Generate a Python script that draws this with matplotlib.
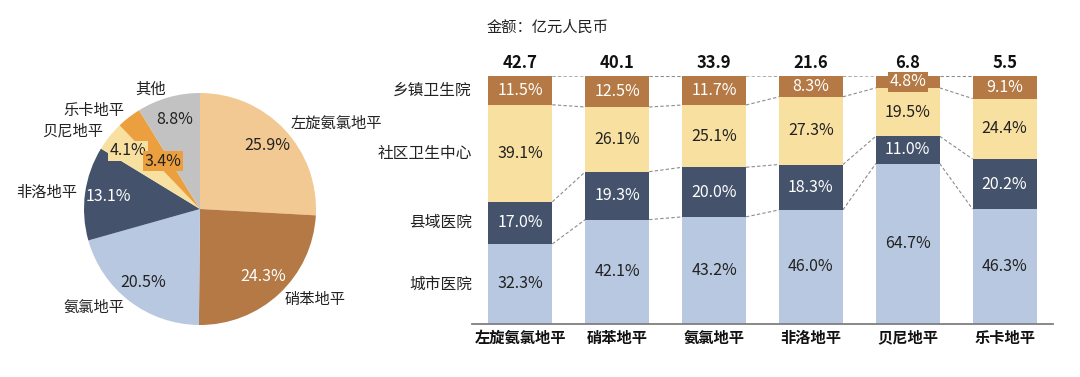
import numpy as np
import matplotlib
matplotlib.use("Agg")
from matplotlib import pyplot as plt

plt.rcParams['font.family'] = ['Noto Sans CJK SC', 'DejaVu Sans']

# pie data
pie_names = ['左旋氨氯地平', '硝苯地平', '氨氯地平', '非洛地平', '贝尼地平', '乐卡地平', '其他']
pie_share = [25.9, 24.3, 20.5, 13.1, 4.1, 3.4, 8.8]
pie_colors = ['#F2C893', '#B47944', '#B8C8E0', '#44536B', '#F8E0A0', '#EC9F3E', '#C2C2C2']
pie_text_colors = ['#222222', 'white', '#222222', 'white', '#222222', '#222222', '#222222']

# stacked bar data
drugs = ['左旋氨氯地平', '硝苯地平', '氨氯地平', '非洛地平', '贝尼地平', '乐卡地平']
totals = [42.7, 40.1, 33.9, 21.6, 6.8, 5.5]
levels = ['城市医院', '县域医院', '社区卫生中心', '乡镇卫生院']
city = [32.3, 42.1, 43.2, 46.0, 64.7, 46.3]
county = [17.0, 19.3, 20.0, 18.3, 11.0, 20.2]
community = [39.1, 26.1, 25.1, 27.3, 19.5, 24.4]
township = [11.5, 12.5, 11.7, 8.3, 4.8, 9.1]
bar_colors = ['#B8C8E0', '#44536B', '#F8E0A0', '#B47944']
bar_text_colors = ['#222222', 'white', '#222222', 'white']

W, H = 1080, 377
fig = plt.figure(figsize=(W / 100, H / 100), dpi=100)

# ---- pie ----
ax1 = fig.add_axes([55 / W, 23 / H, 290 / W, 290 / H])
wedges, texts = ax1.pie(pie_share, colors=pie_colors, startangle=90, counterclock=False,
                        labels=pie_names, labeldistance=1.07,
                        textprops=dict(fontsize=11, color='#222222'))
for i, (w, v) in enumerate(zip(wedges, pie_share)):
    mid = np.deg2rad((w.theta1 + w.theta2) / 2)
    r = 0.52 if pie_names[i] == '乐卡地平' else 0.8
    bbox = None
    if pie_names[i] in ('贝尼地平', '乐卡地平'):
        bbox = dict(boxstyle='square,pad=0.1', fc=pie_colors[i], ec='none')
    ax1.text(r * np.cos(mid), r * np.sin(mid), f'{v:.1f}%', ha='center', va='center',
             fontsize=11.5, color=pie_text_colors[i], bbox=bbox)

# ---- stacked bars ----
ax2 = fig.add_axes([472 / W, 1 - 324 / H, (1053 - 472) / W, (324 - 76) / H])
x = np.arange(len(drugs))
bw = 0.66
series = [city, county, community, township]
bottom = np.zeros(len(drugs))
tops = []
for s, c, tc in zip(series, bar_colors, bar_text_colors):
    vals = np.array(s)
    ax2.bar(x, vals, bw, bottom=bottom, color=c, edgecolor='none', zorder=2)
    for xi, b, v in zip(x, bottom, vals):
        bbox = None
        if v < 6:
            bbox = dict(boxstyle='square,pad=0.1', fc=c, ec='none')
        ax2.text(xi, b + v / 2, f'{v:.1f}%', ha='center', va='center',
                 fontsize=11.5, color=tc, zorder=4, bbox=bbox)
    bottom = bottom + vals
    tops.append(bottom.copy())

# dashed connectors between neighbouring bars
for lev in tops:
    for i in range(len(drugs) - 1):
        ax2.plot([x[i] + bw / 2, x[i + 1] - bw / 2], [lev[i], lev[i + 1]],
                 ls=(0, (3, 2)), color='#8C8C8C', lw=0.8, zorder=1)

for xi, t in zip(x, totals):
    ax2.text(xi, 101.5, f'{t}', ha='center', va='bottom', fontsize=12,
             fontweight='bold', color='#111111')

# row labels at the middle of the first bar's segments
b0 = 0
for name, s in zip(levels, series):
    ax2.text(-0.5, b0 + s[0] / 2, name, ha='right', va='center', fontsize=11.3, color='#222222')
    b0 += s[0]

ax2.set_xlim(-0.5, 5.5)
ax2.set_ylim(0, 100)
ax2.set_xticks(x)
ax2.set_xticklabels(drugs, fontsize=11, fontweight='bold', color='#111111')
ax2.tick_params(axis='x', length=0, pad=4)
ax2.set_yticks([])
for sp in ['top', 'right', 'left']:
    ax2.spines[sp].set_visible(False)
ax2.spines['bottom'].set_color('#7F7F7F')
ax2.spines['bottom'].set_linewidth(1.3)

fig.text(487 / W, 1 - 27 / H, '金额：亿元人民币', ha='left', va='center', fontsize=11, color='#222222')

fig.savefig('out.png', dpi=100, facecolor='white')
